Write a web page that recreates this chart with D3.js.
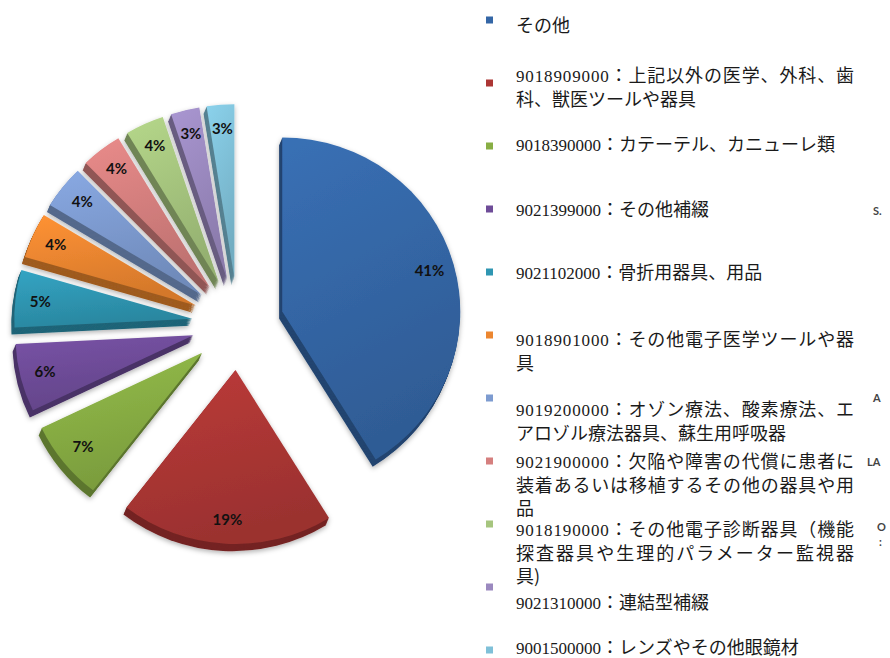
<!DOCTYPE html>
<html>
<head>
<meta charset="utf-8">
<script src="https://cdn.jsdelivr.net/npm/d3@7"></script>
<style>
  body { margin: 0; background: #fff; }
</style>
</head>
<body>
<div id="chart"></div>
<script>
var width = 890;
var height = 658;

// slice shares in % (labels show the rounded values)
var shares = [41.2, 19.3, 7.4, 6.3, 5.3, 4.2, 4.0, 3.7, 3.5, 2.6, 2.5];
var shareLabels = ["41%", "19%", "7%", "6%", "5%", "4%", "4%", "4%", "4%", "3%", "3%"];
var colors = ["#3466a6", "#ac3634", "#88ae44", "#6e4c98", "#2f96b2", "#ec8630",
              "#7d9bd0", "#d57f7e", "#a6c57e", "#9b89bf", "#7fc0d8"];

// legend text, already broken into lines like the original
var legendLines = [
  ["その他"],
  ["9018909000：上記以外の医学、外科、歯", "科、獣医ツールや器具"],
  ["9018390000：カテーテル、カニューレ類"],
  ["9021399000：その他補綴"],
  ["9021102000：骨折用器具、用品"],
  ["9018901000：その他電子医学ツールや器", "具"],
  ["9019200000：オゾン療法、酸素療法、エ", "アロゾル療法器具、蘇生用呼吸器"],
  ["9021900000：欠陥や障害の代償に患者に", "装着あるいは移植するその他の器具や用", "品"],
  ["9018190000：その他電子診断器具（機能", "探査器具や生理的パラメーター監視器", "具)"],
  ["9021310000：連結型補綴"],
  ["9001500000：レンズやその他眼鏡材"]
];

// cut-off characters at the right edge of the picture
var strayText = ["S.", "A", "LA", "O", ":"];

// layout
var cx = 238, cy = 324, rx = 178, ry = 174, explode = 46;
var depth = 8, depthDx = -0.38, depthDy = 0.9;
var legendTextY = [26, 76, 145, 210, 273, 340, 410, 462, 530, 603, 648];
var lineH = 23.5;
var strayPos = [[873, 215], [873, 402], [867, 466], [877, 531], [879, 546]];

var svg = d3.select("#chart").append("svg")
  .attr("width", width)
  .attr("height", height);

var defs = svg.append("defs");

var shadow = defs.append("filter").attr("id", "shadow")
  .attr("x", "-20%").attr("y", "-20%").attr("width", "140%").attr("height", "140%");
shadow.append("feDropShadow")
  .attr("dx", 0).attr("dy", 2)
  .attr("stdDeviation", 2.5)
  .attr("flood-color", "#000")
  .attr("flood-opacity", 0.3);

colors.forEach(function(c, i) {
  var g = defs.append("linearGradient").attr("id", "grad" + i)
    .attr("x1", 0).attr("y1", 0).attr("x2", 0.3).attr("y2", 1);
  g.append("stop").attr("offset", "0%").attr("stop-color", d3.color(c).brighter(0.25));
  g.append("stop").attr("offset", "100%").attr("stop-color", d3.color(c).darker(0.3));
});

var pie = d3.pie().sort(null).value(function(d) { return d; });
var arc = d3.arc().innerRadius(0).outerRadius(rx);
var slices = pie(shares);
var k = ry / rx;

slices.forEach(function(d, i) {
  var mid = (d.startAngle + d.endAngle) / 2;
  d.index = i;
  d.ox = cx + explode * Math.sin(mid);
  d.oy = cy - explode * Math.cos(mid);
  d.mid = mid;
});

// back to front: slices higher on the page first
var order = slices.slice().sort(function(a, b) {
  return (a.oy - ry * 0.5 * Math.cos(a.mid)) - (b.oy - ry * 0.5 * Math.cos(b.mid));
});

var pieG = svg.append("g");

function place(d, dx, dy) {
  return "translate(" + (d.ox + dx) + "," + (d.oy + dy) + ") scale(1," + k + ")";
}

order.forEach(function(d) {
  var g = pieG.append("g").attr("filter", "url(#shadow)");
  var side = d3.color(colors[d.index]).darker(1.1);
  for (var j = depth; j >= 1; j--) {
    g.append("path")
      .attr("d", arc(d))
      .attr("transform", place(d, depthDx * j, depthDy * j))
      .attr("fill", side);
  }
  g.append("path")
    .attr("d", arc(d))
    .attr("transform", place(d, 0, 0))
    .attr("fill", "url(#grad" + d.index + ")");
});

var labelR = rx * 0.86;
pieG.selectAll("text.pct")
  .data(slices)
  .enter().append("text")
  .attr("class", "pct")
  .attr("x", function(d) { return d.ox + labelR * Math.sin(d.mid); })
  .attr("y", function(d) { return d.oy - labelR * k * Math.cos(d.mid); })
  .attr("dy", "0.35em")
  .attr("text-anchor", "middle")
  .style("font-family", "Lato, 'Open Sans', sans-serif")
  .style("font-weight", "bold")
  .style("font-size", "15px")
  .style("fill", "#111")
  .text(function(d, i) { return shareLabels[i]; });

// legend
var markerY = d3.scaleLinear().domain([0, legendLines.length - 1]).range([20, 650]);
var legend = svg.append("g");

legend.selectAll("rect")
  .data(colors)
  .enter().append("rect")
  .attr("x", 486)
  .attr("y", function(d, i) { return markerY(i) - 3.5; })
  .attr("width", 7)
  .attr("height", 7)
  .attr("fill", function(d) { return d; });

legendLines.forEach(function(lines, i) {
  lines.forEach(function(line, j) {
    var t = legend.append("text")
      .attr("x", 516)
      .attr("y", legendTextY[i] + j * lineH + 6)
      .attr("font-family", "'Noto Sans CJK JP', sans-serif")
      .attr("font-size", 18)
      .attr("fill", "#1a1a1a");
    var m = line.match(/^(\d+)(.*)$/);
    if (m) {
      t.append("tspan")
        .attr("font-family", "'Liberation Serif', 'Times New Roman', serif")
        .attr("font-size", 17)
        .text(m[1]);
      t.append("tspan").text(m[2]);
    } else {
      t.text(line);
    }
    if (lines.length > 1 && j < lines.length - 1) {
      t.attr("textLength", 338).attr("lengthAdjust", "spacing");
    }
  });
});

svg.selectAll("text.stray")
  .data(strayText)
  .enter().append("text")
  .attr("class", "stray")
  .attr("x", function(d, i) { return strayPos[i][0]; })
  .attr("y", function(d, i) { return strayPos[i][1]; })
  .style("font-family", "Lato, sans-serif")
  .style("font-weight", "bold")
  .style("font-size", "11px")
  .style("fill", "#444")
  .text(function(d) { return d; });
</script>
</body>
</html>
